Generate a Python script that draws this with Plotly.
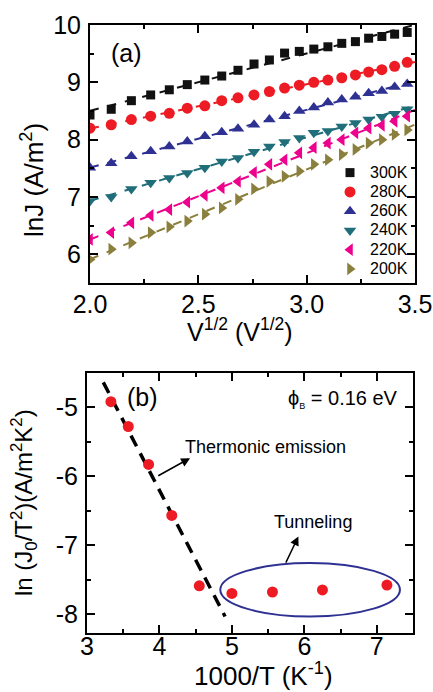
import numpy as np
import plotly.graph_objects as go

# ---------------- data: panel (a) ----------------
sqrt_v = [2.000, 2.098, 2.191, 2.280, 2.366, 2.449, 2.530, 2.608, 2.683, 2.757, 2.828,
          2.898, 2.966, 3.033, 3.098, 3.162, 3.225, 3.286, 3.347, 3.406, 3.464]
temps_a = ["300K", "280K", "260K", "240K", "220K", "200K"]
lnj_300 = [8.43, 8.53, 8.68, 8.78, 8.87, 8.96, 9.04, 9.11, 9.21, 9.32, 9.39,
           9.51, 9.54, 9.58, 9.62, 9.68, 9.71, 9.77, 9.80, 9.84, 9.87]
lnj_280 = [8.20, 8.26, 8.35, 8.41, 8.46, 8.55, 8.59, 8.68, 8.73, 8.78, 8.84,
           8.90, 8.95, 9.00, 9.04, 9.08, 9.13, 9.18, 9.22, 9.28, 9.35]
lnj_260 = [7.51, 7.59, 7.71, 7.80, 7.88, 7.97, 8.06, 8.13, 8.19, 8.26, 8.35,
           8.41, 8.50, 8.56, 8.65, 8.70, 8.75, 8.81, 8.85, 8.92, 8.97]
lnj_240 = [6.93, 7.00, 7.14, 7.25, 7.33, 7.42, 7.51, 7.62, 7.68, 7.79, 7.88,
           7.96, 8.03, 8.12, 8.15, 8.23, 8.29, 8.35, 8.40, 8.45, 8.53]
lnj_220 = [6.26, 6.38, 6.55, 6.68, 6.78, 6.91, 7.03, 7.16, 7.27, 7.43, 7.57,
           7.65, 7.77, 7.86, 7.94, 8.00, 8.12, 8.20, 8.25, 8.32, 8.41]
lnj_200 = [5.91, 6.09, 6.20, 6.38, 6.48, 6.58, 6.70, 6.81, 6.96, 7.14, 7.27,
           7.36, 7.45, 7.57, 7.65, 7.74, 7.83, 7.94, 8.00, 8.09, 8.17]
fit_x_range = [2.0, 3.5]

# ---------------- data: panel (b) ----------------
inv_t = [3.33, 3.57, 3.85, 4.17, 4.55, 5.00, 5.56, 6.25, 7.14]
ln_j0t2 = [-4.92, -5.28, -5.83, -6.57, -7.59, -7.70, -7.68, -7.65, -7.58]
te_line_x = [3.225, 4.906]
te_line_y = [-4.64, -8.035]
ellipse_x = [4.84, 7.32]
ellipse_y = [-8.035, -7.26]

series = [lnj_300, lnj_280, lnj_260, lnj_240, lnj_220, lnj_200]
colors = ["#111111", "#ED1C24", "#2E3192", "#1F6E7A", "#EC008C", "#8A7F3C"]
symbols = ["square", "circle", "triangle-up", "triangle-down", "triangle-left", "triangle-right"]
sizes = [9, 11, 11, 11, 11, 11]

FONT = "Liberation Sans, Arial, sans-serif"
W, H = 433, 692
fig = go.Figure()

for name, ys, c, s, sz in zip(temps_a, series, colors, symbols, sizes):
    k, b = np.polyfit(sqrt_v, ys, 1)
    fx = np.array(fit_x_range)
    fig.add_trace(go.Scatter(x=fx, y=k * fx + b, mode="lines", xaxis="x", yaxis="y",
                             line=dict(color=c, width=2, dash="dash"), showlegend=False,
                             hoverinfo="skip"))
for name, ys, c, s, sz in zip(temps_a, series, colors, symbols, sizes):
    fig.add_trace(go.Scatter(x=sqrt_v, y=ys, mode="markers",
                             name=f"<span style='font-size:16px'>{name}</span>",
                             xaxis="x", yaxis="y",
                             marker=dict(symbol=s, size=sz, color=c, line=dict(width=0))))

# panel (b)
fig.add_trace(go.Scatter(x=te_line_x, y=te_line_y, mode="lines", xaxis="x2", yaxis="y2",
                         line=dict(color="black", width=3.5, dash="12px,8px"), showlegend=False))
fig.add_trace(go.Scatter(x=inv_t, y=ln_j0t2, mode="markers", xaxis="x2", yaxis="y2",
                         marker=dict(symbol="circle", size=11, color="#ED1C24"), showlegend=False))

fig.add_shape(type="circle", xref="x2", yref="y2", x0=ellipse_x[0], x1=ellipse_x[1],
              y0=ellipse_y[0], y1=ellipse_y[1], line=dict(color="#2E3192", width=2))

axis_common = dict(showline=True, linecolor="black", linewidth=2, mirror="allticks",
                   ticks="inside", ticklen=8, tickwidth=2, tickcolor="black",
                   showgrid=False, zeroline=False, automargin=False,
                   tickfont=dict(family=FONT, size=25, color="black"))

fig.update_layout(
    width=W, height=H, margin=dict(l=0, r=0, t=0, b=0),
    paper_bgcolor="white", plot_bgcolor="white",
    font=dict(family=FONT, color="black"),
    showlegend=True,
    legend=dict(x=330 / W, y=1 - 158 / H, xanchor="left", yanchor="top",
                bgcolor="rgba(0,0,0,0)",
                font=dict(family=FONT, size=12.5, color="black"), tracegroupgap=0,
                itemwidth=30),
    xaxis=dict(domain=[90 / W, 415 / W], anchor="y", range=[2.0, 3.5],
               tickvals=[2.0, 2.5, 3.0, 3.5], ticktext=["2.0", "2.5", "3.0", "3.5"],
               minor=dict(ticks="inside", ticklen=4, tickwidth=2, dtick=0.25, tick0=2.0,
                          tickcolor="black"),
               ticklabelstandoff=-2, **axis_common),
    yaxis=dict(domain=[1 - 283 / H, 1 - 25 / H], anchor="x", range=[5.5, 10],
               tickvals=[6, 7, 8, 9, 10], ticktext=["6", "7", "8", "9", "10"],
               minor=dict(ticks="inside", ticklen=4, tickwidth=2, dtick=0.5, tick0=5.5,
                          tickcolor="black"),
               ticklabelstandoff=2, **axis_common),
    xaxis2=dict(domain=[87 / W, 413 / W], anchor="y2", range=[3, 7.5],
                tickvals=[3, 4, 5, 6, 7], ticktext=["3", "4", "5", "6", "7"],
                minor=dict(ticks="inside", ticklen=4, tickwidth=2, dtick=0.5, tick0=3,
                           tickcolor="black"),
                ticklabelstandoff=-10, **axis_common),
    yaxis2=dict(domain=[1 - 632.7 / H, 1 - 372.7 / H], anchor="x2", range=[-8.27, -4.5],
                tickvals=[-8, -7, -6, -5], ticktext=["-8", "-7", "-6", "-5"],
                minor=dict(ticks="inside", ticklen=4, tickwidth=2, dtick=0.5, tick0=-8,
                           tickcolor="black"),
                title=dict(text="ln (J<sub>0</sub>/T<sup>2</sup>)(A/m<sup>2</sup>K<sup>2</sup>)",
                           standoff=16, font=dict(family=FONT, size=24)),
                ticklabelstandoff=2, **axis_common),
)

annotations = [
    # axis titles placed like the reference
    dict(x=33 / W, y=1 - 180 / H, xref="paper", yref="paper", textangle=-90,
         text="lnJ (A/m<sup>2</sup>)", showarrow=False, xanchor="center", yanchor="middle",
         font=dict(family=FONT, size=26)),
    dict(x=240 / W, y=1 - 330 / H, xref="paper", yref="paper",
         text="V<sup>1/2</sup> (V<sup>1/2</sup>)", showarrow=False,
         xanchor="center", yanchor="middle", font=dict(family=FONT, size=25)),
    dict(x=263 / W, y=1 - 674 / H, xref="paper", yref="paper",
         text="1000/T (K<sup>-1</sup>)", showarrow=False,
         xanchor="center", yanchor="middle", font=dict(family=FONT, size=26)),
    dict(x=2.167, y=9.51, xref="x", yref="y", text="(a)", showarrow=False,
         font=dict(family=FONT, size=25)),
    dict(x=3.76, y=-4.85, xref="x2", yref="y2", text="(b)", showarrow=False,
         font=dict(family=FONT, size=25)),
    dict(x=7.323, y=-4.88, xref="x2", yref="y2", xanchor="right",
         text="ϕ<sub><span style='font-size:9px'>B</span></sub> = 0.16 eV", showarrow=False,
         font=dict(family=FONT, size=20)),
    dict(x=4.326, y=-5.575, xref="x2", yref="y2", xanchor="left", text="Thermonic emission",
         showarrow=False, font=dict(family=FONT, size=18)),
    dict(x=5.555, y=-6.672, xref="x2", yref="y2", xanchor="left", text="Tunneling",
         showarrow=False, font=dict(family=FONT, size=18)),
    dict(x=4.423, y=-5.739, ax=3.963, ay=-6.006, xref="x2", yref="y2", axref="x2", ayref="y2",
         text="", showarrow=True, arrowhead=2, arrowsize=1.2, arrowwidth=1.5, arrowcolor="black"),
    dict(x=5.918, y=-6.874, ax=5.735, ay=-7.275, xref="x2", yref="y2", axref="x2", ayref="y2",
         text="", showarrow=True, arrowhead=2, arrowsize=1.2, arrowwidth=1.5, arrowcolor="black"),
]
fig.update_layout(annotations=annotations)

fig.write_html("out.html", config={"displayModeBar": False},
               post_script="document.body.style.margin='0px';")
